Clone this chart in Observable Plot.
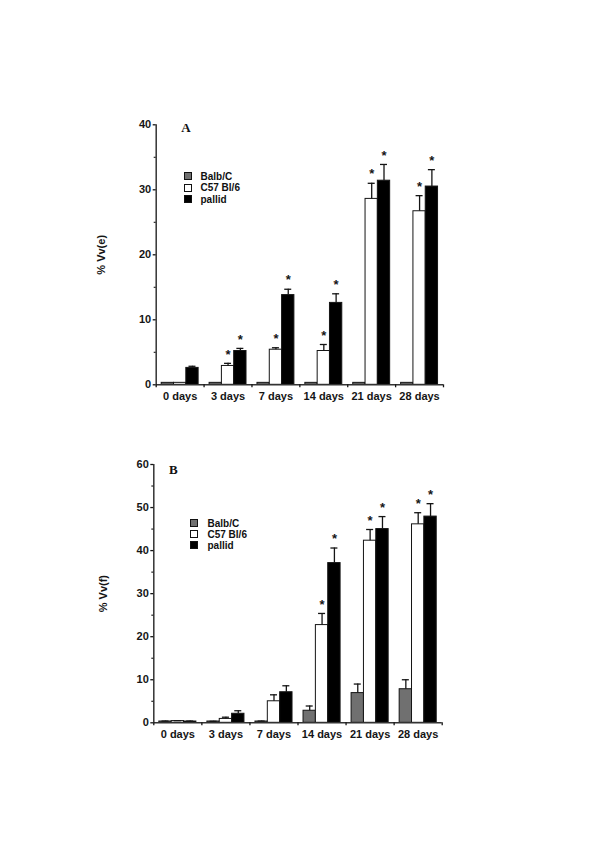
<!DOCTYPE html>
<html>
<head>
<meta charset="utf-8">
<script src="https://cdn.jsdelivr.net/npm/d3@7"></script>
<script src="https://cdn.jsdelivr.net/npm/@observablehq/plot@0.6"></script>
<style>
  html, body { margin: 0; padding: 0; background: #fff; }
  #page { position: relative; width: 600px; height: 849px; background: #fff; overflow: hidden; }
  #page svg { position: absolute; left: 0; display: block; }
  .legend { position: absolute; font-family: "Liberation Sans", Arial, sans-serif; font-weight: bold; font-size: 10px; color: #111; }
  .legend .row { position: relative; white-space: nowrap; }
  .legend .sw { position: absolute; left: 0; width: 6px; height: 6px; border: 1px solid #111; }
  .panel { position: absolute; font-family: "Liberation Serif", "Times New Roman", serif; font-weight: bold; font-size: 13px; line-height: 13px; color: #111; }
</style>
</head>
<body>
<div id="page"></div>
<script>
// ---- data ----
const days = ["0 days", "3 days", "7 days", "14 days", "21 days", "28 days"];
const series = ["Balb/C", "C57 Bl/6", "pallid"];
const seriesColors = ["#707070", "#ffffff", "#000000"];

// Panel A : % Vv(e)
const balbA      = [0.3, 0.3, 0.3, 0.3, 0.3, 0.3];
const balbErrA   = [0, 0, 0, 0, 0, 0];
const c57A       = [0.3, 2.9, 5.4, 5.2, 28.6, 26.7];
const c57ErrA    = [0, 0.4, 0.3, 1.0, 2.4, 2.4];
const pallidA    = [2.6, 5.2, 13.8, 12.6, 31.4, 30.5];
const pallidErrA = [0.25, 0.4, 0.9, 1.4, 2.5, 2.6];
const balbStarA   = [false, false, false, false, false, false];
const c57StarA    = [false, true, true, true, true, true];
const pallidStarA = [false, true, true, true, true, true];
const yTicksA = [0, 10, 20, 30, 40];
const yMinorA = [5, 15, 25, 35];

// Panel B : % Vv(f)
const balbB      = [0.3, 0.3, 0.3, 2.8, 6.9, 7.8];
const balbErrB   = [0.1, 0.05, 0.1, 1.1, 2.1, 2.2];
const c57B       = [0.4, 0.9, 5.0, 22.7, 42.3, 46.1];
const c57ErrB    = [0.1, 0.4, 1.5, 2.7, 2.6, 2.7];
const pallidB    = [0.3, 2.1, 7.1, 37.1, 45.0, 47.9];
const pallidErrB = [0.1, 0.7, 1.5, 3.5, 2.9, 3.0];
const balbStarB   = [false, false, false, false, false, false];
const c57StarB    = [false, false, false, true, true, true];
const pallidStarB = [false, false, false, true, true, true];
const yTicksB = [0, 10, 20, 30, 40, 50, 60];
const yMinorB = [5, 15, 25, 35, 45, 55];

// ---- layout constants (not data) ----
const GROUP_PAD = 0.115;   // left offset of first bar inside a group (group width = 1)
const BAR_W = 0.257;       // bar width (fraction of group)
const CAP_HALF = 0.073;    // half width of error cap
const INK = "#151515";

function buildRows(vals, errs, stars) {
  const rows = [];
  days.forEach((d, i) => {
    series.forEach((s, j) => {
      rows.push({day: d, i, j, series: s, value: vals[j][i], err: errs[j][i], star: stars[j][i]});
    });
  });
  return rows;
}
const barX1 = d => d.i + GROUP_PAD + d.j * BAR_W;
const barX2 = d => d.i + GROUP_PAD + (d.j + 1) * BAR_W;
const barXc = d => d.i + GROUP_PAD + (d.j + 0.5) * BAR_W;
const errTop = d => d.value + d.err;

function makePanel({rows, yMax, yTicks, yMinor, label, height, marginTop, marginBottom, marginLeft, marginRight, labelOffset}) {
  const errRows = rows.filter(d => d.err > 0);
  const boundaries = days.map((_, i) => i).concat([days.length]);
  const centers = days.map((_, i) => i + 0.5);
  return Plot.plot({
    width: 600,
    height,
    marginTop, marginBottom, marginLeft, marginRight,
    x: {domain: [0, days.length]},
    y: {domain: [0, yMax]},
    color: {domain: series, range: seriesColors},
    style: {fontFamily: "'Liberation Sans', Arial, sans-serif", fontWeight: "bold", fontSize: "11px", color: INK, background: "white"},
    marks: [
      Plot.rectY(rows, {x1: barX1, x2: barX2, y1: 0, y2: "value", fill: "series", stroke: INK, strokeWidth: 1}),
      Plot.ruleX(errRows, {x: barXc, y1: "value", y2: errTop, stroke: INK, strokeWidth: 1.3}),
      Plot.ruleY(errRows, {y: errTop, x1: d => barXc(d) - CAP_HALF, x2: d => barXc(d) + CAP_HALF, stroke: INK, strokeWidth: 1.3}),
      Plot.text(rows.filter(d => d.star), {x: barXc, y: errTop, text: () => "*", dy: -9, fontSize: 13, fontWeight: "bold", fill: INK}),
      Plot.ruleX([0], {stroke: "#333", strokeWidth: 1.5}),
      Plot.ruleY([0], {stroke: "#333", strokeWidth: 1.5}),
      Plot.axisY({ticks: yTicks, tickSize: 3, tickPadding: 2, strokeWidth: 1.3, fontSize: 11,
                  label, labelAnchor: "center", labelOffset, labelArrow: "none"}),
      Plot.axisY({ticks: yMinor, tickSize: 2, strokeWidth: 1.1, tickFormat: () => "", label: null}),
      Plot.axisX({ticks: boundaries, tickSize: 3, strokeWidth: 1.3, tickFormat: () => "", label: null}),
      Plot.axisX({ticks: centers, tickSize: 0, tickPadding: 7, fontSize: 11, tickFormat: d => days[Math.floor(d)], label: null})
    ]
  });
}

const page = document.getElementById("page");

const svgA = makePanel({
  rows: buildRows([balbA, c57A, pallidA], [balbErrA, c57ErrA, pallidErrA], [balbStarA, c57StarA, pallidStarA]),
  yMax: 40, yTicks: yTicksA, yMinor: yMinorA, label: "% Vv(e)",
  height: 420, marginTop: 124.3, marginBottom: 35.7, marginLeft: 155.7, marginRight: 157, labelOffset: 59
});
svgA.style.top = "0px";
page.appendChild(svgA);

const svgB = makePanel({
  rows: buildRows([balbB, c57B, pallidB], [balbErrB, c57ErrB, pallidErrB], [balbStarB, c57StarB, pallidStarB]),
  yMax: 60, yTicks: yTicksB, yMinor: yMinorB, label: "% Vv(f)",
  height: 429, marginTop: 44, marginBottom: 126.7, marginLeft: 153.3, marginRight: 158.3, labelOffset: 55
});
svgB.style.top = "420px";
page.appendChild(svgB);

// panel letters
function addText(cls, txt, left, topPx) {
  const el = document.createElement("div");
  el.className = cls;
  el.textContent = txt;
  el.style.left = left + "px";
  el.style.top = topPx + "px";
  page.appendChild(el);
  return el;
}
addText("panel", "A", 181.3, 121);
addText("panel", "B", 169, 463);

// legends
function addLegend(left, topPx, rowH, textLeft) {
  const lg = document.createElement("div");
  lg.className = "legend";
  lg.style.left = left + "px";
  lg.style.top = topPx + "px";
  series.forEach((s, j) => {
    const row = document.createElement("div");
    row.className = "row";
    row.style.height = rowH + "px";
    row.style.lineHeight = rowH + "px";
    const sw = document.createElement("span");
    sw.className = "sw";
    sw.style.background = seriesColors[j];
    sw.style.top = ((rowH - 8) / 2) + "px";
    const tx = document.createElement("span");
    tx.style.position = "absolute";
    tx.style.left = textLeft + "px";
    tx.textContent = s;
    row.appendChild(sw);
    row.appendChild(tx);
    lg.appendChild(row);
  });
  page.appendChild(lg);
}
addLegend(183.5, 170.5, 11.5, 17);
addLegend(190, 517.5, 11, 17.5);
</script>
</body>
</html>
